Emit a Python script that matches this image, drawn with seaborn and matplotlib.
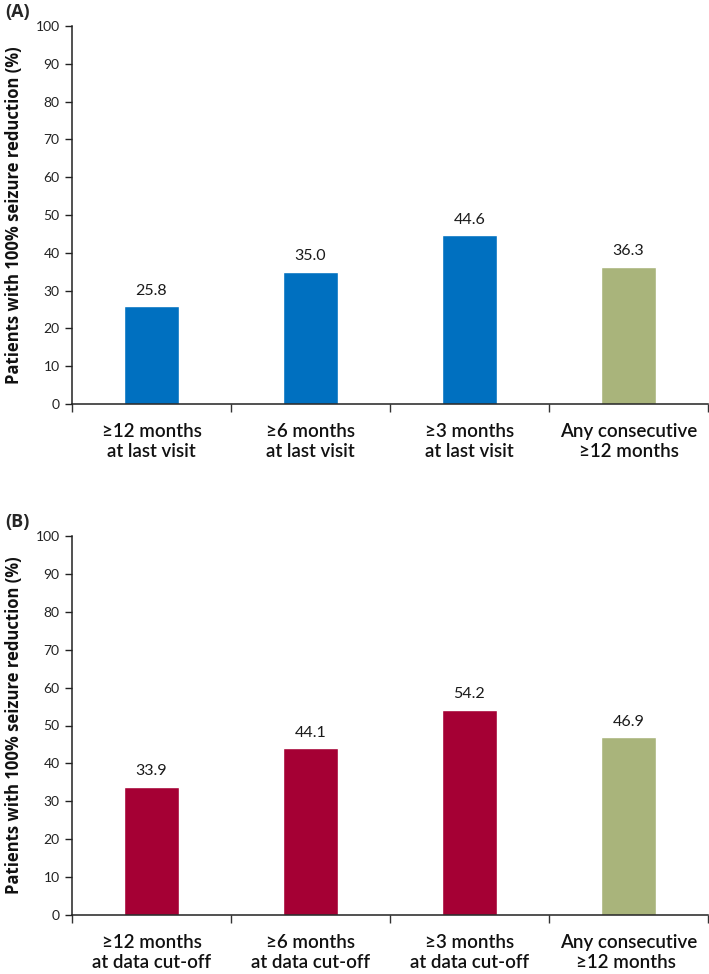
import matplotlib
matplotlib.use("Agg")
import matplotlib.pyplot as plt
import numpy as np
import seaborn as sns

# panel A: at last visit
cats_a = ["≥12 months\nat last visit", "≥6 months\nat last visit",
          "≥3 months\nat last visit", "Any consecutive\n≥12 months"]
vals_a = [25.8, 35.0, 44.6, 36.3]
colors_a = ["#0070C0", "#0070C0", "#0070C0", "#A9B47B"]

# panel B: at data cut-off
cats_b = ["≥12 months\nat data cut-off", "≥6 months\nat data cut-off",
          "≥3 months\nat data cut-off", "Any consecutive\n≥12 months "]
vals_b = [33.9, 44.1, 54.2, 46.9]
colors_b = ["#A50034", "#A50034", "#A50034", "#A9B47B"]

yticks = list(range(0, 101, 10))

sns.set_style("white")
plt.rcParams['font.family'] = ['Lato', 'DejaVu Sans']

fig = plt.figure(figsize=(7.09, 9.74), dpi=100)
ax_a = fig.add_axes([72 / 709, 1 - 404 / 974, 636 / 709, 378 / 974])
ax_b = fig.add_axes([72 / 709, 1 - 915 / 974, 636 / 709, 379 / 974])


def draw_panel(ax, cats, vals, colors, tag):
    sns.barplot(x=cats, y=vals, hue=cats, palette=colors, legend=False,
                width=0.345, saturation=1, ax=ax)
    for i, v in enumerate(vals):
        ax.text(i, v + 2.2, f"{v:.1f}", ha="center", va="bottom",
                fontsize=11.5, color="#1a1a1a")
    ax.set_ylim(0, 100)
    ax.set_xlim(-0.5, len(cats) - 0.5)
    ax.set_yticks(yticks)
    ax.tick_params(axis="y", which="major", length=5, width=1, direction="out",
                   left=True, labelsize=10, pad=4, colors="#222222")
    ax.set_xticks(range(len(cats)))
    ax.set_xticks(np.arange(-0.5, len(cats), 1.0), minor=True)
    ax.tick_params(axis="x", which="major", length=0, pad=14, labelsize=13.5)
    ax.tick_params(axis="x", which="minor", length=6, width=1, direction="out",
                   bottom=True, color="#333333")
    for lbl in ax.get_xticklabels():
        lbl.set_linespacing(1.2)
        lbl.set_color("#111111")
        lbl.set_fontweight("semibold")
    for s in ["top", "right"]:
        ax.spines[s].set_visible(False)
    for s in ["left", "bottom"]:
        ax.spines[s].set_color("#222222")
        ax.spines[s].set_linewidth(1.1)
    ax.set_ylabel("Patients with 100% seizure reduction (%)", fontsize=12,
                  fontweight="bold", family="Open Sans", color="#111111")
    ax.yaxis.set_label_coords(-0.077, 0.5)
    ax.text(-0.105, 1.037, tag, transform=ax.transAxes, fontsize=13,
            fontweight="bold", family="Open Sans", ha="left", va="center")


draw_panel(ax_a, cats_a, vals_a, colors_a, "(A)")
draw_panel(ax_b, cats_b, vals_b, colors_b, "(B)")

fig.savefig("out.png", dpi=100)
